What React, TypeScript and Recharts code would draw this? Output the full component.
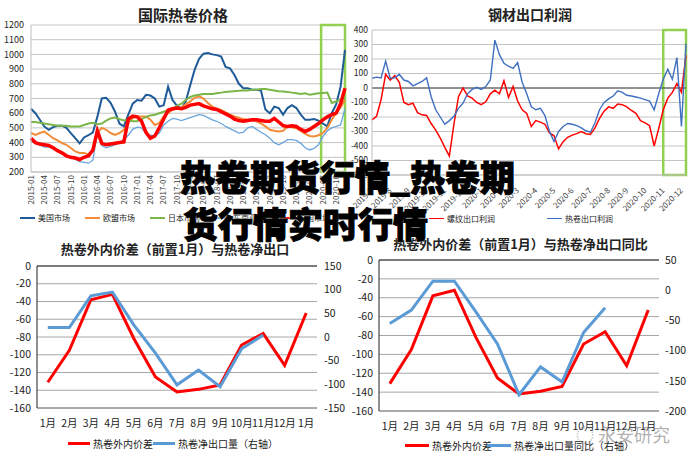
import React from "react";
import { LineChart, Line, XAxis, YAxis, CartesianGrid, ReferenceArea, ReferenceLine } from "recharts";

const FONT = '"Noto Sans CJK SC", "Noto Sans", sans-serif';

// 国际热卷价格, monthly 2015-01 .. 2020-12
const priceTickLabels = [
  "2015-01", "2015-04", "2015-07", "2015-10", "2016-01", "2016-04", "2016-07", "2016-10",
  "2017-01", "2017-04", "2017-07", "2017-10", "2018-01", "2018-04", "2018-07", "2018-10",
  "2019-01", "2019-04", "2019-07", "2019-10", "2020-01", "2020-04", "2020-07", "2020-10",
];
const usPrice = [
  630, 600, 555, 510, 487, 505, 515, 515, 500, 465, 430, 395,
  435, 450, 470, 575, 700, 705, 670, 610, 530, 510, 590, 665,
  690, 685, 725, 720, 700, 645, 655, 780, 690, 650, 630, 680,
  790, 895, 970, 1005, 1010, 1000, 995, 985, 915, 905, 860, 800,
  770, 770, 760, 760, 755, 625, 600, 645, 635, 590, 635, 655,
  635, 590, 555, 555, 560, 550, 530, 510, 600, 660, 780, 1030,
];
const euPrice = [
  465, 453, 465, 475, 453, 430, 415, 397, 385, 363, 340, 330,
  330, 320, 350, 465, 500, 487, 465, 453, 465, 487, 533, 566,
  578, 578, 578, 555, 520, 533, 578, 600, 623, 630, 640, 660,
  680, 705, 715, 700, 670, 645, 630, 623, 605, 590, 578, 570,
  560, 555, 550, 545, 530, 510, 487, 480, 476, 480, 510, 505,
  498, 480, 460, 445, 442, 450, 465, 500, 555, 600, 640, 690,
];
const jpPrice = [
  540, 540, 535, 530, 525, 520, 515, 515, 515, 510, 510, 510,
  520, 530, 535, 525, 530, 550, 565, 570, 560, 550, 555, 545,
  545, 560, 575, 585, 590, 600, 610, 620, 630, 650, 665, 690,
  710, 720, 725, 730, 730, 730, 735, 740, 745, 748, 750, 752,
  755, 755, 760, 760, 765, 765, 760, 755, 750, 748, 745, 740,
  735, 730, 735, 725, 730, 735, 738, 740, 670, 680, 690, 700,
];
const seaPrice = [
  410, 395, 385, 370, 370, 360, 345, 330, 310, 300, 285, 270,
  265, 260, 280, 470, 380, 365, 375, 385, 400, 420, 450, 490,
  505, 500, 460, 450, 445, 465, 520, 545, 565, 560, 550, 560,
  570, 580, 590, 585, 570, 555, 545, 530, 510, 495, 480, 465,
  470, 500, 510, 490, 470, 453, 430, 400, 385, 400, 420, 420,
  415, 395, 365, 350, 360, 385, 440, 480, 500, 510, 520, 630,
];
const cnPrice = [
  430, 400, 390, 385, 380, 365, 345, 330, 310, 300, 295, 285,
  300, 310, 350, 480, 395, 385, 390, 395, 400, 405, 560, 580,
  575, 545, 470, 430, 445, 500, 560, 620, 630, 635, 630, 640,
  655, 660, 665, 650, 640, 630, 625, 610, 595, 580, 560, 550,
  545, 550, 555, 555, 550, 545, 545, 565, 540, 515, 510, 515,
  510, 490, 475, 490, 510, 530, 555, 575, 590, 600, 665, 770,
];
const priceSeries = [
  { key: "us", name: "美国市场", color: "#1f5b99", width: 2 },
  { key: "eu", name: "欧盟市场", color: "#f28c38", width: 2 },
  { key: "jp", name: "日本市场", color: "#7ab648", width: 2 },
  { key: "sea", name: "东南亚市场", color: "#6aa6dc", width: 1.3 },
  { key: "cn", name: "中国市场", color: "#ff0000", width: 3.5 },
];
const priceData = usPrice.map((v, i) => ({
  i, us: v, eu: euPrice[i], jp: jpPrice[i], sea: seaPrice[i], cn: cnPrice[i],
}));

// 钢材出口利润, four readings per month, 2019-7 .. 2020-12
const profitTickLabels = [
  "2019-7", "2019-8", "2019-9", "2019-10", "2019-11", "2019-12", "2020-1", "2020-2", "2020-3",
  "2020-4", "2020-5", "2020-6", "2020-7", "2020-8", "2020-9", "2020-10", "2020-11", "2020-12",
];
const rebarProfit = [
  -220, -195, -80, 95, 55, 85, 40, -100, -115, -105, -170, -185,
  -190, -245, -290, -345, -410, -470, -250, -60, 0, -55, -70, -100,
  -115, -95, -40, -15, -40, 50, -65, 10, -90, -150, -175, -265,
  -225, -235, -250, -310, -330, -420, -370, -340, -325, -315, -300, -315,
  -320, -275, -210, -160, -130, -140, -110, -115, -130, -155, -175, -225,
  -240, -260, -400, -280, -150, -70, -30, 30, -30, 225,
];
const hrcProfit = [
  67, 75, 70, 185, 67, 70, 95, 55, 45, 15, 30, 45,
  70, -60, -150, -200, -250, -225, -195, -140, -105, -40, -10, 5,
  -10, 10, 55, 330, 230, 170, 150, 135, 175, 40, -40, -130,
  -150, -140, -190, -300, -370, -300, -265, -245, -250, -260, -275, -295,
  -305, -240, -150, -100, -75, -55, -20, -30, -50, -55, -62, -70,
  -80, -90, -150, -40, 60, 130, 60, 210, -265, 305,
];
const profitTicksY = [-600, -500, -400, -300, -200, -100, 0, 100, 200, 300, 400];
const profitData = rebarProfit.map((v, i) => ({ i, rebar: v, hrc: hrcProfit[i] }));

// 热卷外内价差 与 净出口
const months = ["1月", "2月", "3月", "4月", "5月", "6月", "7月", "8月", "9月", "10月", "11月", "12月", "1月"];
const hrcSpread = [-131, -95, -38, -32, -82, -125, -142, -139, -134, -89, -76, -112, -53];
const netExport = [20, 20, 87, 95, 25, -34, -101, -70, -105, -25, 4, null, null];
const netExportYoY = [-55, -33, 15, 15, -36, -89, -173, -127, -152, -70, -29, null, null];
const spreadData = months.map((m, i) => ({ m, spread: hrcSpread[i], net: netExport[i], yoy: netExportYoY[i] }));

const leftTicks = [0, -20, -40, -60, -80, -100, -120, -140, -160];

function RotTick(props: any) {
  const { x, y, payload, labels, step, angle, size } = props;
  const label = labels[Math.round(payload.value / step)];
  return (
    <g transform={`translate(${x},${y}) rotate(${angle})`}>
      <text textAnchor="end" dy="0.35em" fontSize={size} fill="#404040" fontFamily={FONT}>{label}</text>
    </g>
  );
}

function LeftTick(props: any) {
  const { x, y, payload, size } = props;
  return (
    <text x={x} y={y} dy="0.35em" textAnchor="end" fontSize={size} fill="#222" fontFamily={FONT}>{payload.value}</text>
  );
}

function LegendRow({ items, top, size, lineW, thick }: any) {
  return (
    <>
      {items.map((it: any) => (
        <div key={it.name} style={{ position: "absolute", left: it.left, top, display: "flex", alignItems: "center", fontSize: size, color: "#222", whiteSpace: "nowrap" }}>
          <span style={{ display: "inline-block", width: lineW, height: thick, background: it.color, marginRight: 3 }} />
          {it.name}
        </div>
      ))}
    </>
  );
}

const axisTick = (size: number) => ({ fontSize: size, fill: "#222", fontFamily: FONT });

const headline = {
  position: "absolute" as const, fontSize: 35, lineHeight: "35px", fontWeight: 900, color: "#000",
  whiteSpace: "nowrap" as const, WebkitTextStroke: "1px #000", textShadow: "0 0 2px #fff, 0 0 2px #fff",
};

export default function App() {
  return (
    <div style={{ position: "absolute", left: 0, top: 0, width: 694, height: 462, background: "#fff", overflow: "hidden", fontFamily: FONT }}>
      {/* 国际热卷价格 */}
      <div style={{ position: "absolute", left: 0, top: 4, width: 366, textAlign: "center", fontSize: 15, fontWeight: 700, color: "#222" }}>国际热卷价格</div>
      <div style={{ position: "absolute", left: 0, top: 0 }}>
        <LineChart width={347} height={230} data={priceData} margin={{ top: 25, right: 2, bottom: 22, left: 0 }}>
          <CartesianGrid vertical={false} stroke="#c4c4c4" />
          <XAxis dataKey="i" type="number" domain={[0, 71]} ticks={priceTickLabels.map((_, k) => k * 3)} interval={0}
            height={36} tickSize={0} tickMargin={3} axisLine={{ stroke: "#bfbfbf" }}
            tick={(p: any) => <RotTick {...p} labels={priceTickLabels} step={3} angle={-90} size={8} />} />
          <YAxis domain={[200, 1200]} ticks={[200, 300, 400, 500, 600, 700, 800, 900, 1000, 1100, 1200]} width={31} interval={0}
            tickSize={0} tickMargin={7} axisLine={{ stroke: "#bfbfbf" }} tick={axisTick(9)} />
          {priceSeries.map((s) => (
            <Line key={s.key} dataKey={s.key} name={s.name} stroke={s.color} strokeWidth={s.width} dot={false} type="linear" isAnimationActive={false} />
          ))}
          <ReferenceArea x1={65.6} x2={71} y1={200} y2={1200} fill="none" stroke="#92d050" strokeWidth={2.5} ifOverflow="visible" />
        </LineChart>
      </div>
      <LegendRow top={212} size={8} lineW={15} thick={2}
        items={priceSeries.map((s, k) => ({ name: s.name, color: s.color, left: 20 + k * 65 }))} />

      {/* 钢材出口利润 */}
      <div style={{ position: "absolute", left: 347, top: 4, width: 366, textAlign: "center", fontSize: 14, fontWeight: 700, color: "#222" }}>钢材出口利润</div>
      <div style={{ position: "absolute", left: 347, top: 0 }}>
        <LineChart width={347} height={230} data={profitData} margin={{ top: 30, right: 8, bottom: 25, left: 0 }}>
          <CartesianGrid vertical={false} stroke="#c4c4c4" />
          <XAxis dataKey="i" type="number" domain={[0, 69]} ticks={profitTickLabels.map((_, k) => k * 4)} interval={0}
            height={30} tickSize={0} tickMargin={14} axisLine={{ stroke: "#bfbfbf" }}
            tick={(p: any) => <RotTick {...p} labels={profitTickLabels} step={4} angle={-45} size={8} />} />
          <YAxis type="number" domain={[-600, 400]} ticks={profitTicksY} width={25} interval={0}
            tickSize={0} tickMargin={4} axisLine={{ stroke: "#bfbfbf" }}
            tick={(p: any) => <LeftTick {...p} size={8.5} />} />
          <ReferenceLine y={0} stroke="#404040" strokeWidth={1.2} />
          <Line dataKey="rebar" stroke="#ff0000" strokeWidth={1.5} dot={false} type="linear" isAnimationActive={false} />
          <Line dataKey="hrc" stroke="#3f6fc0" strokeWidth={1.4} dot={false} type="linear" isAnimationActive={false} />
          <ReferenceArea x1={64} x2={69} y1={-600} y2={400} fill="none" stroke="#92d050" strokeWidth={2.5} ifOverflow="visible" />
        </LineChart>
      </div>
      <LegendRow top={213} size={8} lineW={15} thick={1.5}
        items={[{ name: "螺纹出口利润", color: "#ff0000", left: 429 }, { name: "热卷出口利润", color: "#3f6fc0", left: 547 }]} />

      {/* 热卷外内价差（前置1月）与热卷净出口 */}
      <div style={{ position: "absolute", left: 0, top: 239, width: 350, textAlign: "center", fontSize: 13, fontWeight: 700, color: "#222" }}>热卷外内价差（前置1月）与热卷净出口</div>
      <div style={{ position: "absolute", left: 0, top: 225 }}>
        <LineChart width={347} height={237} data={spreadData} margin={{ top: 41, right: 0, bottom: 34, left: 0 }}>
          <CartesianGrid vertical={false} stroke="#a6a6a6" yAxisId="l" />
          <XAxis dataKey="m" height={20} padding={{ left: 10.8, right: 10.8 }} tickSize={0} tickMargin={12} axisLine={{ stroke: "#808080" }} tick={axisTick(10.5)} interval={0} />
          <YAxis yAxisId="l" domain={[-160, 0]} ticks={leftTicks} width={37} interval={0} tickSize={0} tickMargin={6} axisLine={{ stroke: "#222" }} tick={axisTick(10.5)} />
          <YAxis yAxisId="r" orientation="right" domain={[-150, 150]} ticks={[150, 100, 50, 0, -50, -100, -150]} width={30} interval={0} tickSize={0} tickMargin={7} axisLine={false} tick={axisTick(10.5)} />
          <ReferenceLine yAxisId="l" y={0} stroke="#222" />
          <Line yAxisId="l" dataKey="spread" stroke="#ff0000" strokeWidth={3} dot={false} type="linear" isAnimationActive={false} />
          <Line yAxisId="r" dataKey="net" stroke="#5b9bd5" strokeWidth={3} dot={false} type="linear" isAnimationActive={false} />
        </LineChart>
      </div>
      <LegendRow top={436} size={10} lineW={22} thick={3}
        items={[{ name: "热卷外内价差", color: "#ff0000", left: 68 }, { name: "热卷净出口量（右轴）", color: "#5b9bd5", left: 153 }]} />

      {/* 热卷外内价差（前置1月）与热卷净出口同比 */}
      <div style={{ position: "absolute", left: 347, top: 234, width: 347, textAlign: "center", fontSize: 13, fontWeight: 700, color: "#222" }}>热卷外内价差（前置1月）与热卷净出口同比</div>
      <div style={{ position: "absolute", left: 347, top: 225 }}>
        <LineChart width={347} height={237} data={spreadData} margin={{ top: 35, right: 0, bottom: 31, left: 0 }}>
          <CartesianGrid vertical={false} stroke="#a6a6a6" yAxisId="l" />
          <XAxis dataKey="m" height={20} padding={{ left: 10.8, right: 10.8 }} tickSize={0} tickMargin={12} axisLine={{ stroke: "#808080" }} tick={axisTick(10.5)} interval={0} />
          <YAxis yAxisId="l" domain={[-160, 0]} ticks={leftTicks} width={32} interval={0} tickSize={0} tickMargin={6} axisLine={{ stroke: "#222" }} tick={axisTick(10.5)} />
          <YAxis yAxisId="r" orientation="right" domain={[-200, 50]} ticks={[50, 0, -50, -100, -150, -200]} width={35} interval={0} tickSize={0} tickMargin={6} axisLine={false} tick={axisTick(10.5)} />
          <ReferenceLine yAxisId="l" y={0} stroke="#222" />
          <Line yAxisId="l" dataKey="spread" stroke="#ff0000" strokeWidth={3} dot={false} type="linear" isAnimationActive={false} />
          <Line yAxisId="r" dataKey="yoy" stroke="#5b9bd5" strokeWidth={3} dot={false} type="linear" isAnimationActive={false} />
        </LineChart>
      </div>
      <LegendRow top={438} size={10} lineW={24} thick={3}
        items={[{ name: "热卷外内价差", color: "#ff0000", left: 405 }, { name: "热卷净出口量同比（右轴）", color: "#5b9bd5", left: 487 }]} />
      <div style={{ position: "absolute", left: 576, top: 421, fontSize: 18, color: "rgba(110,110,110,0.55)", whiteSpace: "nowrap" }}>◌ 永安研究</div>

      {/* overlay headline */}
      <div style={{ ...headline, left: 180, top: 158 }}>热卷期货行情_热卷期</div>
      <div style={{ ...headline, left: 183, top: 205 }}>货行情实时行情</div>
    </div>
  );
}
